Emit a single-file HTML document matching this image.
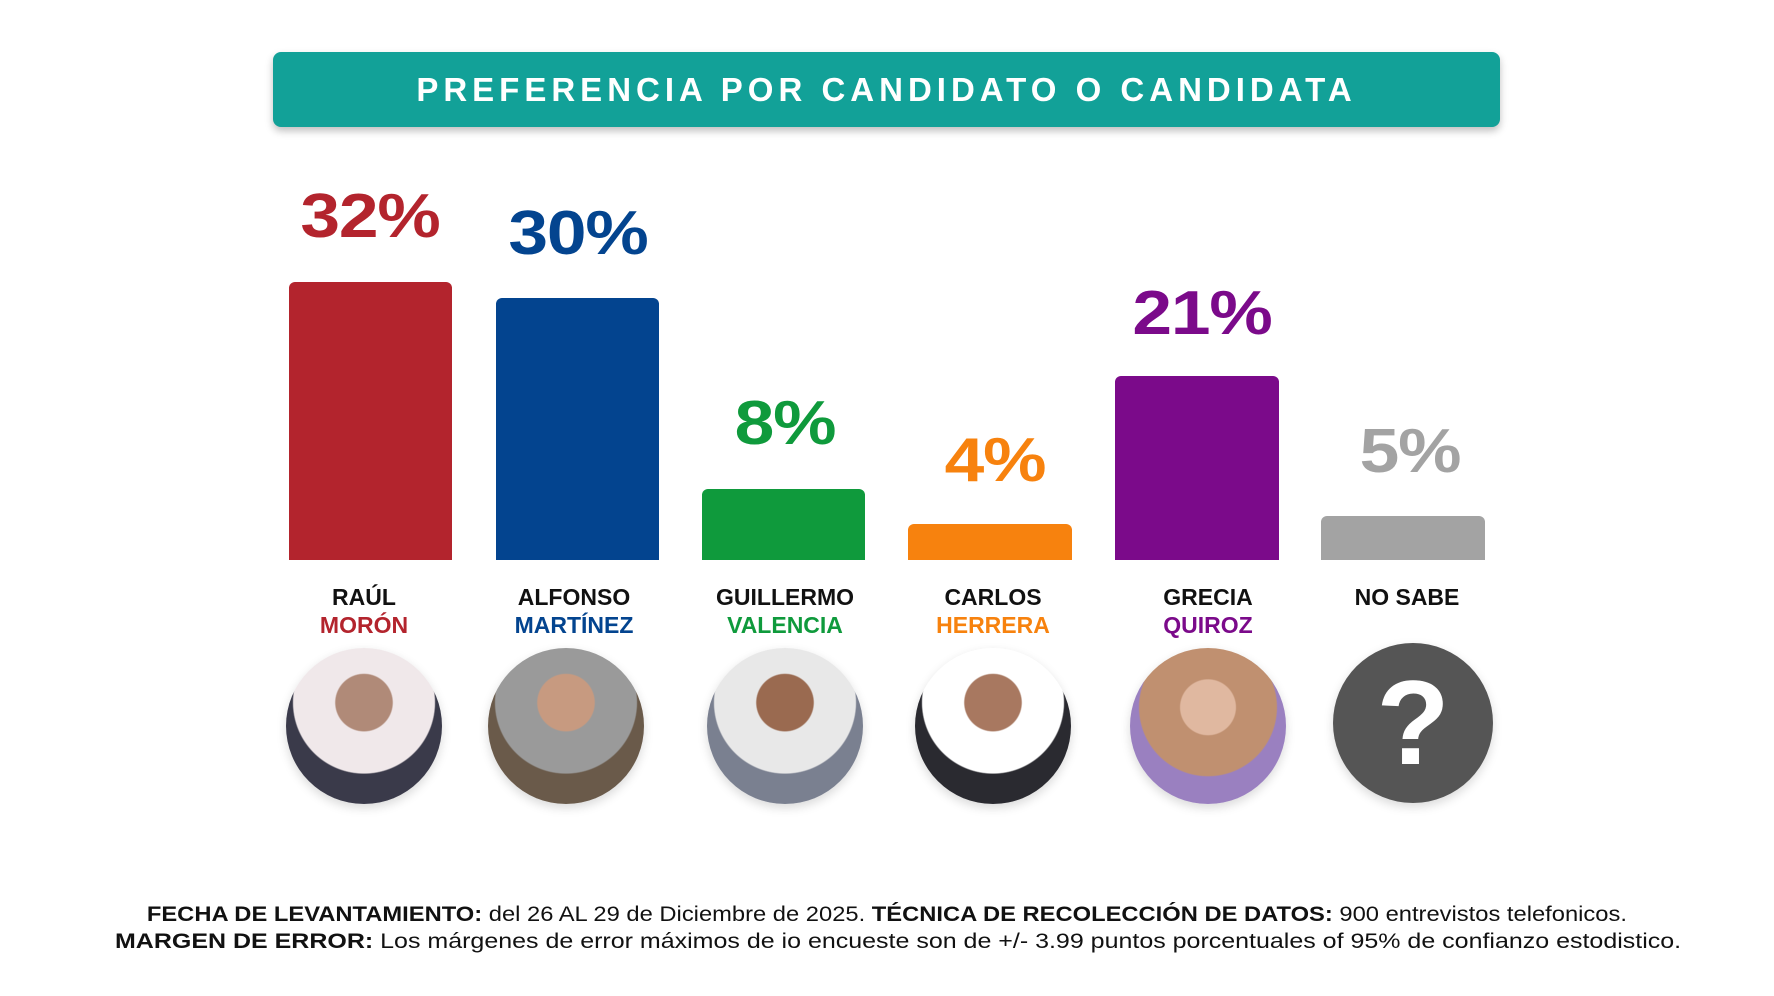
<!DOCTYPE html><html><head><meta charset="utf-8"><style>
body{margin:0;width:1774px;height:996px;background:#fff;position:relative;overflow:hidden;font-family:"Liberation Sans",sans-serif;font-weight:bold}
.a{position:absolute}
.hdr{left:273px;top:52px;width:1227px;height:75px;background:#12a198;border-radius:8px;box-shadow:0 4px 8px rgba(0,0,0,.25);color:#fff;font-size:33px;letter-spacing:5px;text-align:center;line-height:75px}
.bar{border-radius:6px 6px 0 0}
.p{font-size:62px;letter-spacing:-1px;text-align:center;width:220px;transform:translateX(-110px) scaleX(1.15);line-height:1}
.n{font-size:23px;text-align:center;width:220px;transform:translateX(-110px);line-height:28px;color:#111}
.c{width:156px;height:156px;border-radius:50%;transform:translate(-78px,-78px);box-shadow:0 4px 10px rgba(0,0,0,.15)}
.f{font-size:21px;color:#111;left:0;width:1774px;text-align:center}
.f div{display:inline-block}
.f span{font-weight:normal}
</style></head><body>
<div class="a hdr">PREFERENCIA POR CANDIDATO O CANDIDATA</div>
<div class="a bar" style="left:289px;top:282px;width:163px;height:278px;background:#b3242d"></div>
<div class="a bar" style="left:496px;top:298px;width:163px;height:262px;background:#03448f"></div>
<div class="a bar" style="left:702px;top:489px;width:163px;height:71px;background:#0f9a3c"></div>
<div class="a bar" style="left:908px;top:524px;width:164px;height:36px;background:#f7820e"></div>
<div class="a bar" style="left:1115px;top:376px;width:164px;height:184px;background:#7b0a8a"></div>
<div class="a bar" style="left:1321px;top:516px;width:164px;height:44px;background:#a3a3a3"></div>
<div class="a p" style="left:370px;top:186px;color:#b3242d">32%</div>
<div class="a p" style="left:578px;top:203px;color:#03448f">30%</div>
<div class="a p" style="left:785px;top:393px;color:#0f9a3c">8%</div>
<div class="a p" style="left:995px;top:430px;color:#f7820e">4%</div>
<div class="a p" style="left:1202px;top:283px;color:#7b0a8a">21%</div>
<div class="a p" style="left:1410px;top:421px;color:#a3a3a3">5%</div>
<div class="a n" style="left:364px;top:583px">RAÚL<br><span style="color:#b3242d">MORÓN</span></div>
<div class="a n" style="left:574px;top:583px">ALFONSO<br><span style="color:#03448f">MARTÍNEZ</span></div>
<div class="a n" style="left:785px;top:583px">GUILLERMO<br><span style="color:#0f9a3c">VALENCIA</span></div>
<div class="a n" style="left:993px;top:583px">CARLOS<br><span style="color:#f7820e">HERRERA</span></div>
<div class="a n" style="left:1208px;top:583px">GRECIA<br><span style="color:#7b0a8a">QUIROZ</span></div>
<div class="a n" style="left:1407px;top:583px">NO SABE</div>
<div class="a c" style="left:364px;top:726px;background:radial-gradient(circle at 50% 35%,#b08a78 0 22%,#f0e8ea 23% 55%,#3a3a4a 56%)"></div>
<div class="a c" style="left:566px;top:726px;background:radial-gradient(circle at 50% 35%,#c79a80 0 22%,#9a9a9a 23% 55%,#6a5a4a 56%)"></div>
<div class="a c" style="left:785px;top:726px;background:radial-gradient(circle at 50% 35%,#9a6a50 0 22%,#e8e8e8 23% 55%,#7a8090 56%)"></div>
<div class="a c" style="left:993px;top:726px;background:radial-gradient(circle at 50% 35%,#a87860 0 22%,#fff 23% 55%,#2a2a30 56%)"></div>
<div class="a c" style="left:1208px;top:726px;background:radial-gradient(circle at 50% 38%,#e0b8a0 0 22%,#c09070 23% 55%,#9a80c0 56%)"></div>
<div class="a c" style="left:1413px;top:723px;width:160px;height:160px;background:#555;color:#fff;font-size:120px;text-align:center;line-height:160px;transform:translate(-80px,-80px)">?</div>
<div class="a f" style="top:903px"><div style="transform:scaleX(1.13)">FECHA DE LEVANTAMIENTO: <span>del 26 AL 29 de Diciembre de 2025.</span> TÉCNICA DE RECOLECCIÓN DE DATOS: <span>900 entrevistos telefonicos.</span></div></div>
<div class="a f" style="top:930px"><div style="transform:translateX(11px) scaleX(1.19)">MARGEN DE ERROR: <span>Los márgenes de error máximos de io encueste son de +/- 3.99 puntos porcentuales of 95% de confianzo estodistico.</span></div></div>
</body></html>
